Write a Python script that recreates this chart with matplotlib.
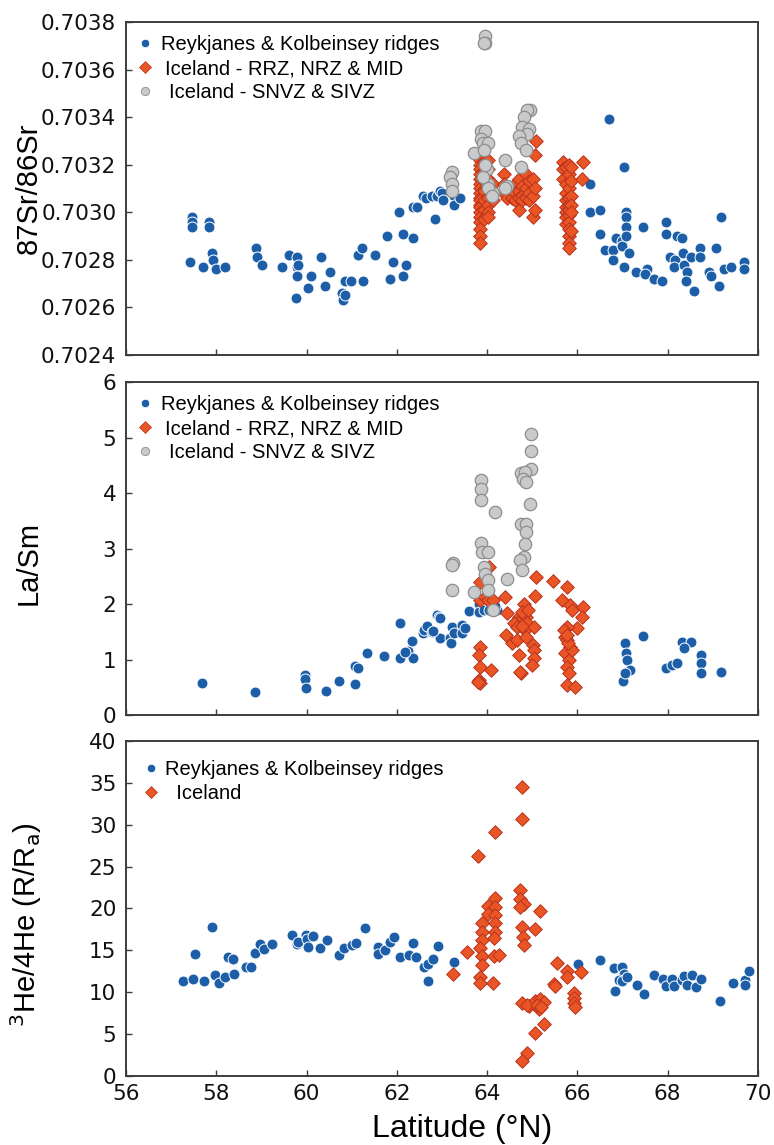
import matplotlib
matplotlib.use("Agg")
import matplotlib.pyplot as plt
from matplotlib.lines import Line2D

plt.rcParams['font.family'] = ['Liberation Sans', 'DejaVu Sans']

# ---------------- data: 87Sr/86Sr ----------------
sr_blue_lat = [57.42, 57.47, 57.47, 57.47, 57.70, 57.83, 57.83, 57.90, 57.92, 58.00, 58.20, 58.88, 58.90, 59.02,
               59.45, 59.62, 59.79, 59.79, 59.82, 59.79, 59.77, 60.10, 60.04, 60.32, 60.41, 60.52, 60.78, 60.80,
               60.86, 60.86, 60.99, 61.14, 61.23, 61.25, 61.51, 61.79, 61.85, 61.91, 62.05, 62.13, 62.13, 62.21,
               62.36, 62.36, 62.44, 62.58, 62.65, 62.84, 62.78, 62.89, 62.95, 63.00, 63.02, 63.26, 63.26, 63.39,
               66.27, 66.27, 66.49, 66.51, 66.62, 66.79, 66.79, 66.86, 66.99, 66.99, 67.03, 67.07, 67.07, 67.07,
               67.07, 67.14, 67.29, 67.46, 67.54, 67.49, 67.69, 67.88, 67.96, 67.96, 68.20, 68.31, 68.06, 68.17,
               68.34, 68.14, 68.36, 68.43, 68.40, 68.58, 68.52, 68.71, 68.71, 68.91, 68.96, 69.08, 69.13, 69.17,
               69.24, 69.41, 69.70, 69.70, 66.71, 67.03]
sr_blue_val = [0.70279, 0.70298, 0.70296, 0.70294, 0.70277, 0.70296, 0.70294, 0.70283, 0.70280, 0.70276, 0.70277,
               0.70285, 0.70281, 0.70278, 0.70277, 0.70282, 0.70281, 0.70277, 0.70278, 0.70273, 0.70264, 0.70273,
               0.70268, 0.70281, 0.70269, 0.70275, 0.70266, 0.70263, 0.70265, 0.70271, 0.70271, 0.70282, 0.70285,
               0.70271, 0.70282, 0.70290, 0.70272, 0.70279, 0.70300, 0.70291, 0.70273, 0.70278, 0.70289, 0.70302,
               0.70302, 0.70307, 0.70306, 0.70297, 0.70307, 0.70307, 0.70309, 0.70308, 0.70305, 0.70307, 0.70303,
               0.70306, 0.70312, 0.70300, 0.70301, 0.70291, 0.70284, 0.70284, 0.70280, 0.70289, 0.70288, 0.70286,
               0.70277, 0.70300, 0.70298, 0.70294, 0.70290, 0.70283, 0.70275, 0.70294, 0.70276, 0.70274, 0.70272,
               0.70271, 0.70296, 0.70291, 0.70290, 0.70289, 0.70281, 0.70280, 0.70283, 0.70277, 0.70278, 0.70275,
               0.70271, 0.70267, 0.70281, 0.70285, 0.70281, 0.70275, 0.70273, 0.70285, 0.70269, 0.70298, 0.70276,
               0.70277, 0.70279, 0.70276, 0.70339, 0.70319]

sr_red_lat = ([63.85] * 18 + [63.92] * 7 + [64.03] * 8 + [64.12] * 2 + [64.38] * 3 + [64.45] + [64.55] * 2 +
              [64.62] * 3 + [64.70] * 4 + [64.78] * 3 + [64.85] * 3 + [64.92] * 3 + [65.02] * 3 + [65.05] * 2 +
              [65.07] + [65.09] + [65.69] * 3 + [65.75] * 8 + [65.81] * 12 + [65.86] * 6 + [66.12] + [66.10])
sr_red_val = [0.70322, 0.70320, 0.70318, 0.70316, 0.70314, 0.70312, 0.70310, 0.70308, 0.70306, 0.70305, 0.70303,
              0.70302, 0.70300, 0.70298, 0.70296, 0.70293, 0.70290, 0.70287,
              0.70321, 0.70317, 0.70313, 0.70309, 0.70305, 0.70301, 0.70297,
              0.70322, 0.70318, 0.70314, 0.70310, 0.70306, 0.70303, 0.70300, 0.70298,
              0.70312, 0.70305,
              0.70316, 0.70312, 0.70308,
              0.70306,
              0.70310, 0.70306,
              0.70312, 0.70308, 0.70305,
              0.70314, 0.70309, 0.70306, 0.70301,
              0.70311, 0.70307, 0.70305,
              0.70316, 0.70310, 0.70306,
              0.70313, 0.70308, 0.70305,
              0.70314, 0.70307, 0.70298,
              0.70301, 0.70310,
              0.70324,
              0.70330,
              0.70321, 0.70318, 0.70314,
              0.70319, 0.70312, 0.70308, 0.70305, 0.70302, 0.70300, 0.70298, 0.70295,
              0.70320, 0.70316, 0.70310, 0.70306, 0.70303, 0.70301, 0.70299, 0.70296, 0.70293, 0.70290, 0.70287,
              0.70285,
              0.70319, 0.70313, 0.70307, 0.70303, 0.70300, 0.70292,
              0.70321,
              0.70314]

sr_grey_lat = [63.96, 63.96, 63.92, 63.86, 63.96, 63.86, 63.91, 64.02, 63.72, 63.92, 64.00, 64.03, 64.13, 64.40,
               64.44, 64.74, 64.96, 64.88, 64.81, 64.78, 64.93, 64.88, 64.71, 64.74, 64.85, 63.22, 63.18, 63.22,
               63.22, 64.03, 64.10, 64.40, 63.90, 63.95]
sr_grey_val = [0.70374, 0.70371, 0.70371, 0.70334, 0.70334, 0.70331, 0.70329, 0.70329, 0.70325, 0.70326, 0.70318,
               0.70312, 0.70308, 0.70322, 0.70311, 0.70319, 0.70343, 0.70343, 0.70340, 0.70336, 0.70335, 0.70333,
               0.70332, 0.70329, 0.70326, 0.70317, 0.70315, 0.70312, 0.70309, 0.70310, 0.70307, 0.70310, 0.70315,
               0.70320]

# ---------------- data: La/Sm ----------------
la_blue_lat = [57.68, 58.85, 59.97, 59.96, 59.99, 60.43, 60.72, 61.08, 61.14, 61.08, 61.34, 61.71, 62.08, 62.08,
               62.24, 62.33, 62.36, 62.57, 62.61, 62.67, 62.78, 62.89, 62.93, 62.95, 62.17, 62.80, 62.96, 63.17,
               63.20, 63.22, 63.27, 63.44, 63.44, 63.51, 63.59, 63.83, 63.83, 63.92, 64.05, 64.22, 64.18, 67.06,
               67.08, 67.09, 67.16, 67.01, 67.06, 67.45, 67.97, 68.10, 68.21, 68.31, 68.52, 68.36, 68.73, 68.73,
               68.73, 69.17]
la_blue_val = [0.58, 0.41, 0.72, 0.65, 0.48, 0.44, 0.61, 0.88, 0.84, 0.56, 1.12, 1.06, 1.65, 1.02, 1.15, 1.34, 1.02,
               1.48, 1.53, 1.60, 1.50, 1.80, 1.76, 1.38, 1.14, 1.52, 1.74, 1.38, 1.30, 1.59, 1.47, 1.62, 1.47, 1.56,
               1.88, 2.01, 1.86, 1.89, 1.89, 1.89, 1.96, 1.29, 1.11, 0.99, 0.81, 0.62, 0.75, 1.43, 0.85, 0.90, 0.93,
               1.32, 1.32, 1.20, 1.08, 0.93, 0.75, 0.78]

la_red_lat = [64.05, 63.85, 63.85, 63.96, 64.03, 64.13, 63.85, 63.83, 63.85, 64.08, 63.81, 63.85, 63.79, 64.40,
              64.44, 64.42, 65.09, 65.46, 65.07, 64.82, 64.71, 64.74, 64.85, 64.89, 64.60, 64.67, 64.83, 65.03,
              64.56, 64.67, 64.85, 65.02, 65.03, 65.03, 64.99, 64.71, 64.74, 64.72, 65.77, 65.66, 65.84, 65.88,
              66.12, 66.10, 65.98, 65.77, 65.73, 65.77, 65.84, 65.73, 65.81, 65.77, 65.81, 65.77, 65.95, 65.71,
              65.88, 65.80, 65.76, 64.78, 64.90, 64.78]
la_red_val = [2.67, 2.40, 2.07, 2.13, 2.07, 2.08, 1.23, 1.08, 0.87, 0.82, 0.63, 0.57, 0.60, 2.13, 1.84, 1.44, 2.49,
              2.42, 2.14, 2.01, 1.77, 1.71, 1.77, 1.65, 1.65, 1.59, 1.53, 1.59, 1.29, 1.35, 1.41, 1.26, 1.17, 1.02,
              0.90, 1.08, 0.75, 0.78, 2.31, 2.07, 1.98, 1.90, 1.95, 1.76, 1.56, 1.59, 1.41, 1.35, 1.23, 1.11, 0.99,
              0.87, 0.75, 0.54, 0.51, 1.53, 1.17, 1.30, 1.45, 1.85, 1.90, 1.60]

la_grey_lat = [64.97, 64.97, 64.97, 64.74, 64.83, 64.80, 64.87, 64.96, 63.86, 63.86, 63.86, 64.18, 64.74, 64.85,
               64.85, 64.83, 64.81, 64.72, 64.78, 63.86, 63.88, 64.03, 63.25, 63.22, 63.22, 63.72, 63.92, 63.96,
               64.01, 64.03, 64.43, 64.12]
la_grey_val = [5.06, 4.76, 4.43, 4.37, 4.38, 4.26, 4.20, 3.81, 4.23, 4.08, 3.87, 3.66, 3.45, 3.45, 3.29, 3.08, 2.85,
               2.79, 2.61, 3.10, 2.94, 2.94, 2.74, 2.70, 2.25, 2.22, 2.67, 2.55, 2.43, 2.25, 2.45, 1.89]

# ---------------- data: 3He/4He ----------------
he_blue_lat = [57.26, 57.48, 57.53, 57.73, 57.90, 57.97, 58.05, 58.20, 58.25, 58.38, 58.40, 58.65, 58.76, 58.85,
               58.97, 59.05, 59.23, 59.67, 59.78, 59.82, 59.99, 60.02, 60.04, 60.15, 60.29, 60.45, 60.71, 60.83,
               61.00, 61.10, 61.30, 61.59, 61.59, 61.74, 61.85, 61.93, 62.08, 62.26, 62.36, 62.42, 62.61, 62.68,
               62.70, 62.81, 62.92, 63.26, 66.01, 66.49, 66.80, 66.99, 67.03, 66.92, 66.99, 67.10, 66.84, 67.31,
               67.47, 67.69, 67.90, 67.97, 68.10, 68.15, 68.32, 68.37, 68.42, 68.54, 68.62, 68.74, 69.15, 69.44,
               69.72, 69.72, 69.80]
he_blue_val = [11.34, 11.54, 14.57, 11.38, 17.83, 12.06, 11.14, 11.86, 14.17, 13.93, 12.18, 12.98, 12.98, 14.65,
               15.76, 15.12, 15.76, 16.84, 15.76, 16.04, 16.84, 16.32, 15.44, 16.72, 15.24, 16.24, 14.45, 15.24,
               15.64, 15.92, 17.63, 15.44, 14.57, 15.04, 16.04, 16.64, 14.17, 14.45, 15.84, 14.17, 13.05, 13.37,
               11.38, 13.93, 15.52, 13.65, 13.37, 13.85, 12.86, 13.05, 12.18, 11.46, 11.38, 11.86, 10.19, 10.87,
               9.79, 12.06, 11.54, 10.75, 11.54, 10.75, 11.46, 11.94, 10.87, 12.06, 10.59, 11.54, 8.99, 11.07,
               11.46, 10.87, 12.54]

he_red_lat = [64.77, 64.77, 64.18, 63.79, 64.72, 64.72, 64.81, 64.72, 64.18, 64.03, 64.18, 64.03, 64.18, 63.88,
              64.18, 65.18, 64.77, 65.07, 63.88, 64.18, 63.88, 64.15, 63.85, 63.88, 64.15, 64.26, 63.88, 63.85,
              63.85, 64.13, 63.55, 63.24, 64.79, 64.81, 64.77, 64.92, 65.07, 65.18, 65.25, 65.16, 65.25, 65.05,
              64.88, 64.77, 65.54, 65.48, 65.50, 65.77, 65.76, 66.08, 65.93, 65.93, 65.93, 65.95, 64.88, 65.10,
              65.20]
he_red_val = [34.47, 30.65, 29.17, 26.27, 22.21, 21.10, 20.54, 20.22, 21.21, 20.30, 20.22, 19.34, 19.22, 18.31,
              18.31, 19.74, 17.83, 17.51, 17.23, 17.23, 16.24, 16.44, 15.24, 14.33, 14.33, 14.45, 13.25, 11.86,
              11.07, 11.14, 14.84, 12.18, 16.64, 15.64, 8.75, 8.36, 8.99, 9.16, 8.87, 7.96, 6.21, 5.17, 2.79,
              1.83, 13.53, 10.99, 10.75, 12.58, 11.78, 12.46, 9.95, 9.28, 8.75, 8.20, 8.50, 8.50, 8.20]

# ---------------- styling ----------------
BLUE = '#1c5fa8'
RED_F = '#ea5526'
RED_E = '#b8321c'
GREY_F = '#c9cacc'
GREY_E = '#8e8e8e'
SPINE = '#3c3c3c'
TICKFONT = ['DejaVu Sans']

labels_top = ['Reykjanes & Kolbeinsey ridges', '\u2009Iceland - RRZ, NRZ & MID', '\u2009\u2009Iceland - SNVZ & SIVZ']
labels_he = ['Reykjanes & Kolbeinsey ridges', '  Iceland']

fig = plt.figure(figsize=(7.74, 11.45), dpi=100)
L, W = 0.1628, 0.8165
ax1 = fig.add_axes([L, 0.6900, W, 0.2908])
ax2 = fig.add_axes([L, 0.3755, W, 0.2908])
ax3 = fig.add_axes([L, 0.0603, W, 0.2926])


def blue(ax, x, y):
    ax.scatter(x, y, s=62, marker='o', c=BLUE, edgecolors='white', linewidths=0.7, zorder=3)


def red(ax, x, y):
    ax.scatter(x, y, s=48, marker='D', c=RED_F, edgecolors=RED_E, linewidths=0.7, zorder=4)


def grey(ax, x, y):
    ax.scatter(x, y, s=80, marker='o', c=GREY_F, edgecolors=GREY_E, linewidths=0.9, zorder=5)


blue(ax1, sr_blue_lat, sr_blue_val)
red(ax1, sr_red_lat, sr_red_val)
grey(ax1, sr_grey_lat, sr_grey_val)

blue(ax2, la_blue_lat, la_blue_val)
red(ax2, la_red_lat, la_red_val)
grey(ax2, la_grey_lat, la_grey_val)

blue(ax3, he_blue_lat, he_blue_val)
red(ax3, he_red_lat, he_red_val)

h_blue = Line2D([], [], ls='none', marker='o', ms=6, mfc=BLUE, mec='white', mew=0.5)
h_red = Line2D([], [], ls='none', marker='D', ms=6, mfc=RED_F, mec=RED_E, mew=0.5)
h_grey = Line2D([], [], ls='none', marker='o', ms=6, mfc=GREY_F, mec=GREY_E, mew=0.6)

for ax in (ax1, ax2):
    ax.legend([h_blue, h_red, h_grey], labels_top, loc='upper left', frameon=False, fontsize=14.5,
              handlelength=0.6, handletextpad=0.5, labelspacing=0.25, borderaxespad=0.35,
              borderpad=0.3)
ax3.legend([h_blue, h_red], labels_he, loc='upper left', frameon=False, fontsize=14.5,
           handlelength=0.6, handletextpad=0.4, labelspacing=0.25, borderaxespad=0.55, borderpad=0.4)

ax1.set_ylim(0.7024, 0.7038)
ax1.set_yticks([0.7024, 0.7026, 0.7028, 0.7030, 0.7032, 0.7034, 0.7036, 0.7038])
ax1.set_yticklabels(['0.7024', '0.7026', '0.7028', '0.7030', '0.7032', '0.7034', '0.7036', '0.7038'])
ax2.set_ylim(0, 6)
ax2.set_yticks([0, 1, 2, 3, 4, 5, 6])
ax3.set_ylim(0, 40)
ax3.set_yticks([0, 5, 10, 15, 20, 25, 30, 35, 40])

for ax in (ax1, ax2, ax3):
    ax.set_xlim(56, 70)
    ax.set_xticks([56, 58, 60, 62, 64, 66, 68, 70])
    ax.tick_params(direction='in', length=4, width=1, colors=SPINE, labelcolor='#111111', labelsize=15.5)
    ax.tick_params(axis='y', pad=7)
    ax.tick_params(axis='x', pad=6)
    for lab in ax.get_xticklabels() + ax.get_yticklabels():
        lab.set_family(TICKFONT)
    for sp in ax.spines.values():
        sp.set_color(SPINE)
        sp.set_linewidth(1.4)
for ax in (ax1, ax2):
    ax.tick_params(axis='x', labelbottom=False)

ax1.set_ylabel('87Sr/86Sr', fontsize=21)
ax2.set_ylabel('La/Sm', fontsize=21)
ax3.set_ylabel(r'$^{3}$He/4He (R/R$_{\mathrm{a}}$)', fontsize=21)
ax1.yaxis.set_label_coords(-0.132, 0.50)
ax2.yaxis.set_label_coords(-0.132, 0.456)
ax3.yaxis.set_label_coords(-0.130, 0.45)
ax3.set_xlabel('Latitude (°N)', fontsize=23)
ax3.xaxis.set_label_coords(0.532, -0.114)

fig.savefig('out.png', dpi=100, facecolor='white')
